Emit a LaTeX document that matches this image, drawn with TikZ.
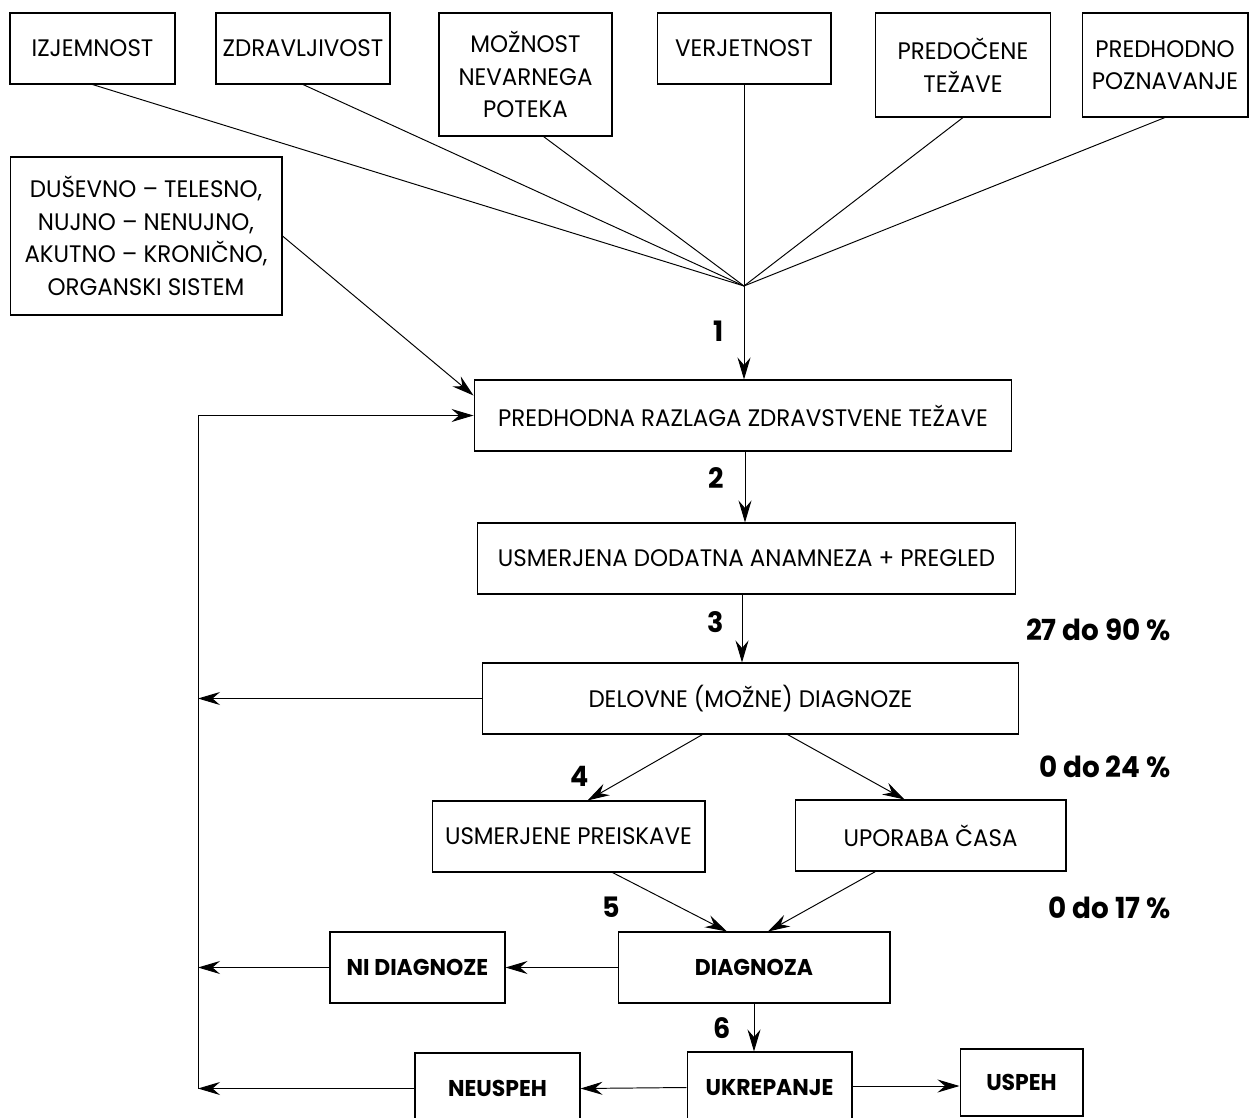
\documentclass[tikz,border=0pt]{standalone}
\usepackage{fontspec}
\setmainfont{Poppins}[FakeStretch=0.96]
\usetikzlibrary{arrows.meta,calc}
\tikzset{
  box/.style={draw, line width=0.6pt, fill=white, align=center, inner sep=0pt,
    font=\fontsize{13.6}{18.5}\selectfont, minimum height=1.42cm},
  bbox/.style={box, font=\fontsize{13}{16}\selectfont\bfseries},
  ln/.style={line width=0.55pt},
  arr/.style={ln, -{Stealth[length=0.44cm,width=0.26cm,inset=0.15cm]}},
  num/.style={font=\fontsize{16}{18}\selectfont\bfseries, inner sep=0pt},
  pct/.style={font=\fontsize{16.5}{18}\selectfont\bfseries, inner sep=0pt, anchor=east}
}
\begin{document}
\begin{tikzpicture}[x=0.02cm,y=-0.02cm]
\useasboundingbox (0,0) rectangle (1250,1118);
\clip (0,0) rectangle (1250,1118);
% top row
\node[box, minimum width=3.3cm] (izj) at (92.5,48.5) {IZJEMNOST};
\node[box, minimum width=3.48cm] (zdr) at (303,48.5) {ZDRAVLJIVOST};
\node[box, minimum width=3.46cm, minimum height=2.46cm] (moz) at (525.5,74.5) {MOŽNOST\\NEVARNEGA\\POTEKA};
\node[box, minimum width=3.48cm] (ver) at (744,48.5) {VERJETNOST};
\node[box, minimum width=3.5cm, minimum height=2.08cm] (pre) at (963,65) {PREDOČENE\\TEŽAVE};
\node[box, minimum width=3.32cm, minimum height=2.08cm] (pog) at (1165,65) {PREDHODNO\\POZNAVANJE};
\node[box, minimum width=5.44cm, minimum height=3.16cm] (dus) at (146,236) {DUŠEVNO – TELESNO,\\NUJNO – NENUJNO,\\AKUTNO – KRONIČNO,\\ORGANSKI SISTEM};
% main column
\node[box, minimum width=10.76cm] (raz) at (743,415.5) {PREDHODNA RAZLAGA ZDRAVSTVENE TEŽAVE};
\node[box, minimum width=10.78cm] (usm) at (746.5,558.5) {USMERJENA DODATNA ANAMNEZA + PREGLED};
\node[box, minimum width=10.74cm] (del) at (750.5,698.5) {DELOVNE (MOŽNE) DIAGNOZE};
\node[box, minimum width=5.46cm] (pri) at (568.5,836.5) {USMERJENE PREISKAVE};
\node[box, minimum width=5.42cm] (cas) at (930.5,835.5) {UPORABA ČASA};
\node[bbox, minimum width=5.44cm] (dia) at (754,967.5) {DIAGNOZA};
\node[bbox, minimum width=3.5cm] (nid) at (417.5,967.5) {NI DIAGNOZE};
\node[bbox, minimum width=3.3cm] (neu) at (497.5,1088.5) {NEUSPEH};
\node[bbox, minimum width=3.3cm] (ukr) at (769.5,1087.5) {UKREPANJE};
\node[bbox, minimum width=2.46cm, minimum height=1.34cm] (usp) at (1021.5,1082.5) {USPEH};
% hub
\coordinate (hub) at (744,286);
\coordinate (fbx) at (198,0);
\draw[ln] (izj.south) -- (hub);
\draw[ln] (zdr.south) -- (hub);
\draw[ln] ([xshift=0.36cm]moz.south) -- (hub);
\draw[ln] (ver.south) -- (hub);
\draw[ln] (pre.south) -- (hub);
\draw[ln] (pog.south) -- (hub);
\draw[arr] (hub) -- (hub |- raz.north);
\draw[arr] (dus.east) -- ([yshift=0.4cm]raz.west);
% feedback loop
\draw[arr] (fbx |- neu.west) -- (fbx |- raz.west) -- (raz.west);
\draw[arr] (del.west) -- (fbx |- del.west);
\draw[arr] (nid.west) -- (fbx |- nid.west);
\draw[arr] (neu.west) -- (fbx |- neu.west);
% main flow
\draw[arr] (raz.south -| 745,0) -- (usm.north -| 745,0);
\draw[arr] (usm.south -| 742,0) -- (del.north -| 742,0);
\draw[arr] ([xshift=-0.96cm]del.south) -- ([xshift=0.38cm]pri.north);
\draw[arr] ([xshift=0.74cm]del.south) -- ([xshift=-0.52cm]cas.north);
\draw[arr] ([xshift=0.88cm]pri.south) -- ([xshift=-0.54cm]dia.north);
\draw[arr] ([xshift=-1.1cm]cas.south) -- ([xshift=0.28cm]dia.north);
\draw[arr] (dia.west) -- (nid.east);
\draw[arr] (dia.south) -- (dia.south |- ukr.north);
\draw[arr] (ukr.west) -- (neu.east);
\draw[arr] ([yshift=0.03cm]ukr.east) -- ([yshift=0.03cm]ukr.east -| usp.west);
% numbers
\node[num] (n1) at (719,331) {1};
\node[num] (n2) at (716,478) {2};
\node[num] (n3) at (716,622) {3};
\node[num] (n4) at (580,776) {4};
\node[num] (n5) at (611,907) {5};
\node[num] (n6) at (722,1028) {6};
% percentages
\node[pct] (p1) at (1171,630) {27 do 90 \%};
\node[pct] (p2) at (1171,767) {0 do 24 \%};
\node[pct] (p3) at (1171,908) {0 do 17 \%};
\end{tikzpicture}
\end{document}
